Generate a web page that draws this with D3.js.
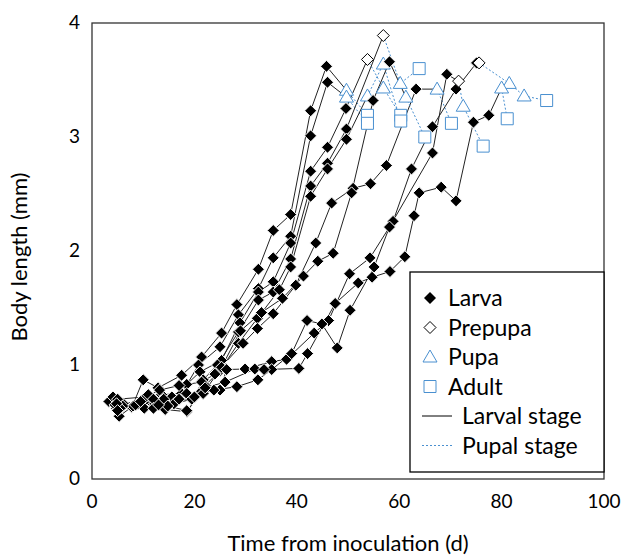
<!DOCTYPE html>
<html>
<head>
<meta charset="utf-8">
<script src="https://cdn.jsdelivr.net/npm/d3@7"></script>
<style>
  body { margin: 0; background: #fff; }
  text { font-family: Lato, "Open Sans", sans-serif; fill: #000; }
</style>
</head>
<body>
<div id="chart"></div>
<script>
// tick labels
const xTicks = [0, 20, 40, 60, 80, 100];
const yTicks = [0, 1, 2, 3, 4];

// one set of arrays per individual: [day, body length mm]
const larva1 = [[3.3,0.68],[7.8,0.63],[10,0.87],[12.9,0.80],[17.5,0.91],[21.4,1.07],[25.3,1.28],[28.3,1.53],[32.5,1.84],[35.4,2.18],[38.8,2.32],[42.7,3.23],[45.8,3.62]];
const pupa1 = [[49.7,3.41]];
const adult1 = [[53.8,3.19]];

const larva2 = [[4.1,0.72],[6.1,0.66],[11.2,0.69],[13.6,0.74],[17.5,0.75],[20.8,1.0],[25,1.16],[28.6,1.44],[32.5,1.67],[35.4,1.94],[38.8,2.13],[42.7,3.01],[46,3.48]];
const pupa2 = [[49.7,3.35]];
const adult2 = [[53.8,3.12]];

const larva3 = [[4.8,0.62],[10,0.67],[11.9,0.71],[15.6,0.72],[18.5,0.83],[21.1,0.94],[25.3,1.04],[28.9,1.37],[32.5,1.64],[35.4,1.73],[38.8,2.07],[42.7,2.70],[46,2.91],[49.6,3.25]];
const prepupa3 = [[53.8,3.68]];
const pupa3 = [[56.9,3.43]];
const adult3 = [[60.3,3.19]];

const larva4 = [[5.3,0.55],[8,0.64],[12,0.63],[13.4,0.68],[16.5,0.68],[19.8,0.71],[21.7,0.87],[24.5,1.0],[28.6,1.29],[32.5,1.57],[35.4,1.64],[38.8,1.93],[42.7,2.57],[46,2.77],[49.7,3.07]];
const prepupa4 = [[56.9,3.89]];
const pupa4 = [[60.2,3.47]];
const adult4 = [[63.9,3.60]];

const larva5 = [[4.5,0.65],[10.2,0.62],[12.3,0.66],[14.3,0.61],[18.5,0.59],[22.1,0.82],[25,0.95],[28.6,1.19],[32.3,1.41],[36.6,1.66],[38.8,1.86],[42.7,2.48],[46,2.72],[49.7,2.98]];
const pupa5 = [[53.8,3.36],[56.9,3.64]];
const adult5 = [[60.3,3.14]];

const larva6 = [[5,0.70],[10.5,0.72],[13.2,0.78],[17,0.82],[21.4,0.85],[24,0.92],[29.5,1.19],[32.3,1.32],[35.4,1.45],[39.8,1.70],[43.7,2.07],[46.8,2.42],[51,2.55],[54.4,2.59],[57.5,2.75],[63.3,3.42]];
const pupa6 = [[67.4,3.42]];
const adult6 = [[70.2,3.12]];

const larva7 = [[6,0.64],[11,0.74],[14,0.70],[18.5,0.75],[21.7,0.75],[25.3,0.98],[29,1.30],[33.1,1.46],[37.2,1.585],[41.3,1.78],[44.1,1.91],[47.1,1.98],[50.7,2.51],[54.9,3.32],[58.1,3.66]];
const pupa7 = [[61.3,3.35]];
const adult7 = [[65,3.0]];

const larva8 = [[5.5,0.62],[9,0.66],[12,0.70],[16,0.66],[19.5,0.70],[21.4,0.77],[25,0.78],[26.3,0.96],[29.9,0.965],[35.1,1.03],[38,1.05],[43.4,1.28],[46.2,1.39],[50.3,1.80],[54.3,1.94],[58.8,2.26],[62.4,2.72],[66.5,3.09],[71.1,3.42],[75.1,3.65]];
const prepupa8 = [[75.6,3.65]];
const pupa8 = [[81.5,3.47],[84.4,3.36]];
const adult8 = [[88.8,3.32]];

const larva9 = [[4.8,0.66],[8.5,0.65],[12,0.62],[14.8,0.64],[18.5,0.60],[21.7,0.75],[23.8,0.78],[28.3,0.81],[32.4,0.87],[35.1,0.96],[39,1.10],[42,1.39],[44.9,1.36],[47.9,1.15],[50.4,1.48],[55.1,1.86],[58.1,2.21],[66.5,2.86],[69.3,3.55]];
const prepupa9 = [[71.6,3.49]];
const pupa9 = [[72.5,3.27]];
const adult9 = [[76.4,2.92]];

const larva10 = [[5,0.60],[9.5,0.68],[13,0.65],[17,0.70],[20,0.72],[22.1,0.80],[26,0.85],[31.8,0.965],[33.6,0.96],[40.4,0.97],[42.1,1.10],[47.5,1.54],[52,1.72],[54.7,1.77],[58.2,1.82],[61.1,1.95],[62.9,2.31],[63.9,2.51],[68.2,2.56],[71.1,2.44],[74.5,3.13],[77.5,3.19]];
const pupa10 = [[80,3.43]];
const adult10 = [[81.1,3.16]];

const individuals = [
  { larva: larva1, prepupa: [], pupa: pupa1, adult: adult1 },
  { larva: larva2, prepupa: [], pupa: pupa2, adult: adult2 },
  { larva: larva3, prepupa: prepupa3, pupa: pupa3, adult: adult3 },
  { larva: larva4, prepupa: prepupa4, pupa: pupa4, adult: adult4 },
  { larva: larva5, prepupa: [], pupa: pupa5, adult: adult5 },
  { larva: larva6, prepupa: [], pupa: pupa6, adult: adult6 },
  { larva: larva7, prepupa: [], pupa: pupa7, adult: adult7 },
  { larva: larva8, prepupa: prepupa8, pupa: pupa8, adult: adult8 },
  { larva: larva9, prepupa: prepupa9, pupa: pupa9, adult: adult9 },
  { larva: larva10, prepupa: [], pupa: pupa10, adult: adult10 }
];

const W = 629, H = 556;
const margin = { top: 23, right: 25, bottom: 77, left: 92 },
  width = W - margin.left - margin.right,
  height = H - margin.top - margin.bottom;

const blue = "#4a90d0";

const svg = d3.select("#chart").append("svg")
  .attr("width", W).attr("height", H);

const g = svg.append("g").attr("transform", `translate(${margin.left},${margin.top})`);

const x = d3.scaleLinear().domain([0, 100]).range([0, width]);
const y = d3.scaleLinear().domain([0, 4]).range([height, 0]);

// tick labels
g.append("g").selectAll("text").data(xTicks).join("text")
  .attr("x", d => x(d)).attr("y", height + 29)
  .attr("text-anchor", "middle").attr("font-size", 19).text(d => d);

g.append("g").selectAll("text").data(yTicks).join("text")
  .attr("x", -12).attr("y", d => y(d) + 6)
  .attr("text-anchor", "end").attr("font-size", 19).text(d => d);

// axis titles
svg.append("text")
  .attr("x", margin.left + width / 2).attr("y", H - 5)
  .attr("text-anchor", "middle").attr("font-size", 22)
  .text("Time from inoculation (d)");

svg.append("text")
  .attr("transform", `translate(27,${margin.top + height / 2 + 6}) rotate(-90)`)
  .attr("text-anchor", "middle").attr("font-size", 22)
  .text("Body length (mm)");

const line = d3.line().x(d => x(d[0])).y(d => y(d[1]));

// larval stage lines (solid) and pupal stage lines (dotted)
individuals.forEach(ind => {
  const solid = ind.larva.concat(ind.prepupa.length ? ind.prepupa : [ind.pupa[0]]);
  const dotted = (ind.prepupa.length ? ind.prepupa : []).concat(ind.pupa, ind.adult);
  g.append("path").attr("d", line(solid))
    .attr("fill", "none").attr("stroke", "#222").attr("stroke-width", 1);
  g.append("path").attr("d", line(dotted))
    .attr("fill", "none").attr("stroke", blue).attr("stroke-width", 1)
    .attr("stroke-dasharray", "2,2");
});

const diamond = "M0,-6L6,0L0,6L-6,0Z";
const triangle = "M0,-7L7,5L-7,5Z";
const square = "M-6,-6H6V6H-6Z";

const allLarva = individuals.flatMap(d => d.larva);
const allPrepupa = individuals.flatMap(d => d.prepupa);
const allPupa = individuals.flatMap(d => d.pupa);
const allAdult = individuals.flatMap(d => d.adult);

function marks(data, path, fill, stroke) {
  g.append("g").selectAll("path").data(data).join("path")
    .attr("transform", d => `translate(${x(d[0])},${y(d[1])})`)
    .attr("d", path).attr("fill", fill).attr("stroke", stroke).attr("stroke-width", 1);
}
marks(allAdult, square, "#fff", blue);
marks(allPupa, triangle, "#fff", blue);
marks(allLarva, diamond, "#000", "#fff");
marks(allPrepupa, diamond, "#fff", "#000");

// plot frame
g.append("rect").attr("width", width).attr("height", height)
  .attr("fill", "none").attr("stroke", "#333").attr("stroke-width", 1.3);

// legend
const legendItems = [
  { label: "Larva", type: "larva" },
  { label: "Prepupa", type: "prepupa" },
  { label: "Pupa", type: "pupa" },
  { label: "Adult", type: "adult" },
  { label: "Larval stage", type: "solid" },
  { label: "Pupal stage", type: "dotted" }
];
const lg = svg.append("g").attr("transform", "translate(410,272)");
lg.append("rect").attr("width", 194).attr("height", 200)
  .attr("fill", "#fff").attr("stroke", "#000").attr("stroke-width", 1.3);
legendItems.forEach((d, i) => {
  const cy = 26 + i * 29.5;
  const row = lg.append("g").attr("transform", `translate(0,${cy})`);
  if (d.type === "larva") row.append("path").attr("transform", "translate(20,0)").attr("d", diamond).attr("fill", "#000");
  if (d.type === "prepupa") row.append("path").attr("transform", "translate(20,0)").attr("d", diamond).attr("fill", "#fff").attr("stroke", "#000");
  if (d.type === "pupa") row.append("path").attr("transform", "translate(20,0)").attr("d", triangle).attr("fill", "#fff").attr("stroke", blue);
  if (d.type === "adult") row.append("path").attr("transform", "translate(20,0)").attr("d", square).attr("fill", "#fff").attr("stroke", blue);
  if (d.type === "solid") row.append("line").attr("x1", 12).attr("x2", 42).attr("stroke", "#000");
  if (d.type === "dotted") row.append("line").attr("x1", 12).attr("x2", 42).attr("stroke", blue).attr("stroke-dasharray", "2,2");
  const tx = (d.type === "solid" || d.type === "dotted") ? 52 : 38;
  row.append("text").attr("x", tx).attr("y", 8).attr("font-size", 23).text(d.label);
});
</script>
</body>
</html>
